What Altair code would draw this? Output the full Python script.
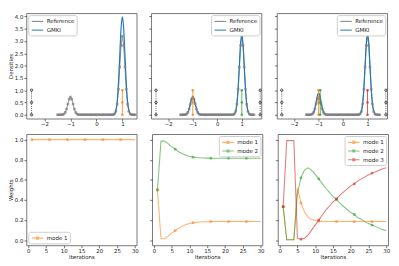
import altair as alt
import pandas as pd

FONT = "DejaVu Sans"
GRAY = "#7f7f7f"
BLUE = "#1f77b4"
ORANGE = "#ff7f0e"
GREEN = "#2ca02c"
RED = "#d62728"

# ---- density panels (top row) ----
X_GRID = [
    -1.5, -1.45, -1.4, -1.35, -1.3, -1.25, -1.2, -1.15, -1.1, -1.05,
    -1.0, -0.95, -0.9, -0.85, -0.8, -0.75, -0.7, -0.65, -0.6, -0.55,
    -0.5, -0.45, -0.4, -0.35, -0.3, -0.25, -0.2, -0.15, -0.1, -0.05,
    0.0, 0.05, 0.1, 0.15, 0.2, 0.25, 0.3, 0.35, 0.4, 0.45,
    0.5, 0.55, 0.6, 0.65, 0.7, 0.75, 0.8, 0.85, 0.9, 0.95,
    1.0, 1.05, 1.1, 1.15, 1.2, 1.25, 1.3, 1.35, 1.4, 1.45,
    1.5,
]
REF_DENS = [
    0, 0, 0, 0.002, 0.008, 0.032, 0.097, 0.234, 0.437, 0.635,
    0.72, 0.635, 0.437, 0.234, 0.097, 0.032, 0.008, 0.002, 0, 0,
    0, 0, 0, 0, 0, 0, 0, 0, 0, 0,
    0, 0, 0, 0, 0, 0, 0, 0, 0, 0,
    0, 0, 0.001, 0.007, 0.036, 0.140, 0.433, 1.039, 1.941, 2.824,
    3.2, 2.824, 1.941, 1.039, 0.433, 0.140, 0.036, 0.007, 0.001, 0,
    0,
]
GMKI1_X = [
    0.5, 0.55, 0.6, 0.65, 0.7, 0.75, 0.8, 0.85, 0.9, 0.95,
    1.0, 1.05, 1.1, 1.15, 1.2, 1.25, 1.3, 1.35, 1.4, 1.45,
    1.5,
]
GMKI1_Y = [
    0, 0, 0.001, 0.009, 0.044, 0.175, 0.540, 1.296, 2.420, 3.521,
    3.99, 3.521, 2.420, 1.296, 0.540, 0.175, 0.044, 0.009, 0.001, 0,
    0,
]
GMKI2_Y = [
    0, 0, 0, 0.002, 0.008, 0.032, 0.099, 0.237, 0.443, 0.644,
    0.73, 0.644, 0.443, 0.237, 0.099, 0.032, 0.008, 0.002, 0, 0,
    0, 0, 0, 0, 0, 0, 0, 0, 0, 0,
    0, 0, 0, 0, 0, 0, 0, 0, 0, 0,
    0, 0, 0.001, 0.007, 0.036, 0.144, 0.442, 1.062, 1.983, 2.886,
    3.27, 2.886, 1.983, 1.062, 0.442, 0.144, 0.036, 0.007, 0.001, 0,
    0,
]
GMKI3_Y = [
    0, 0, 0.001, 0.003, 0.009, 0.035, 0.11, 0.27, 0.52, 0.77,
    0.88, 0.80, 0.57, 0.31, 0.13, 0.045, 0.012, 0.003, 0.001, 0,
    0, 0, 0, 0, 0, 0, 0, 0, 0, 0,
    0, 0, 0, 0, 0, 0, 0, 0, 0, 0,
    0, 0, 0.001, 0.007, 0.037, 0.145, 0.446, 1.072, 2.001, 2.912,
    3.3, 2.912, 2.001, 1.072, 0.446, 0.145, 0.037, 0.007, 0.001, 0,
    0,
]
MODE_Y = [0.0, 0.5, 1.0]
P1_MODES = [1.0]
P2_MODES = [-1.0, 1.0]
P3_MODES = [-1.0, -0.93, 1.0]
P1_BOUNDS = [-2.5]
P23_BOUNDS = [-2.5, 1.75]
DENS_TICKS = [0.0, 0.5, 1.0, 1.5, 2.0, 2.5, 3.0, 3.5, 4.0]
DENS_XTICKS = [-2, -1, 0, 1]

# ---- weight panels (bottom row) ----
ITERS = list(range(1, 31))
MARK_ITERS = [1, 6, 11, 16, 21, 26]
W1_M1 = [1.0] * 30
W2_M1 = [0.5, 0.015, 0.015, 0.04, 0.07, 0.095, 0.12, 0.14, 0.155, 0.167,
         0.174, 0.178, 0.181, 0.183, 0.184, 0.185, 0.185, 0.185, 0.185, 0.185,
         0.185, 0.185, 0.185, 0.185, 0.185, 0.185, 0.185, 0.185, 0.185, 0.185]
W2_M2 = [0.5, 0.985, 0.985, 0.96, 0.93, 0.905, 0.88, 0.86, 0.845, 0.833,
         0.826, 0.822, 0.819, 0.817, 0.816, 0.815, 0.815, 0.815, 0.815, 0.815,
         0.815, 0.815, 0.815, 0.815, 0.815, 0.815, 0.815, 0.815, 0.815, 0.815]
W3_M1 = [0.333, 0.005, 0.005, 0.005, 0.52, 0.37, 0.28, 0.23, 0.205, 0.195,
         0.19, 0.187, 0.186, 0.185, 0.185, 0.185, 0.185, 0.185, 0.185, 0.185,
         0.185, 0.185, 0.185, 0.185, 0.185, 0.185, 0.185, 0.185, 0.185, 0.185]
W3_M2 = [0.334, 0.005, 0.005, 0.005, 0.46, 0.62, 0.70, 0.72, 0.695, 0.655,
         0.61, 0.563, 0.514, 0.475, 0.435, 0.405, 0.365, 0.335, 0.305, 0.275,
         0.255, 0.225, 0.205, 0.185, 0.165, 0.15, 0.135, 0.12, 0.105, 0.095]
W3_M3 = [0.333, 0.99, 0.99, 0.99, 0.02, 0.01, 0.02, 0.05, 0.10, 0.15,
         0.20, 0.25, 0.30, 0.34, 0.38, 0.41, 0.45, 0.48, 0.51, 0.54,
         0.56, 0.59, 0.61, 0.63, 0.65, 0.667, 0.68, 0.695, 0.71, 0.72]
W_XTICKS = [0, 5, 10, 15, 20, 25, 30]
W_YTICKS = [0.0, 0.2, 0.4, 0.6, 0.8, 1.0]

PW = 114
TOP_H = 109
BOT_H = 115
LINE_SYM = "M-1.7,0H1.7"
LINE_SQ_SYM = "M-1.7,0H1.7M-0.3,-0.3H0.3V0.3H-0.3Z"
LEG = dict(title=None, offset=2, padding=2, labelFontSize=5.7, labelFont=FONT,
           labelColor="#222", symbolSize=49, symbolStrokeWidth=1.2,
           strokeColor="#cccccc", fillColor="white", cornerRadius=2,
           rowPadding=1, labelOffset=5, symbolOffset=3)


def dens_panel(gx, gy, modes, colors, bounds, xdom, orient, first):
    ref = pd.DataFrame({"x": X_GRID, "y": REF_DENS, "series": "Reference"})
    gm = pd.DataFrame({"x": gx, "y": gy, "series": "GMKI"})
    xenc = alt.X("x:Q", scale=alt.Scale(domain=xdom, nice=False, zero=False),
                 axis=alt.Axis(values=DENS_XTICKS, format="d", title=None))
    yax = alt.Axis(values=DENS_TICKS, format=".1f", labels=first,
                   title="Densities" if first else None)
    yenc = alt.Y("y:Q", scale=alt.Scale(domain=[-0.157, 4.134], nice=False, zero=False), axis=yax)
    col = alt.Color("series:N",
                    scale=alt.Scale(domain=["Reference", "GMKI"], range=[GRAY, BLUE]),
                    legend=alt.Legend(orient=orient, symbolType=LINE_SYM, **LEG))
    layers = [
        alt.Chart(ref).mark_line(strokeWidth=1, opacity=0.85).encode(xenc, yenc, col),
        alt.Chart(gm).mark_line(strokeWidth=1.2, interpolate="monotone").encode(xenc, yenc, col),
        alt.Chart(ref).mark_point(shape="square", filled=True, size=7, opacity=0.75,
                                  color=GRAY).encode(xenc, yenc),
    ]
    for m, c in zip(modes, colors):
        df = pd.DataFrame({"x": [m] * 3, "y": MODE_Y})
        layers.append(alt.Chart(df).mark_line(
            color=c, strokeWidth=1, opacity=0.8,
            point=alt.OverlayMarkDef(color=c, filled=True, size=7, opacity=0.8)).encode(xenc, yenc))
    for b in bounds:
        df = pd.DataFrame({"x": [b] * 3, "y": MODE_Y})
        layers.append(alt.Chart(df).mark_line(
            color="#222", strokeWidth=0.7, strokeDash=[1, 1],
            point=alt.OverlayMarkDef(color="#222", filled=False, size=6, strokeWidth=0.8)).encode(xenc, yenc))
    return alt.layer(*layers).properties(width=PW, height=TOP_H)


def w_panel(series, names, colors, orient, first):
    rows = []
    for name, vals in zip(names, series):
        for it, v in zip(ITERS, vals):
            rows.append({"it": it, "w": v, "mode": name})
    df = pd.DataFrame(rows)
    pts = df[df["it"].isin(MARK_ITERS)]
    xenc = alt.X("it:Q", scale=alt.Scale(domain=[-0.5, 30.5], nice=False, zero=False),
                 axis=alt.Axis(values=W_XTICKS, format="d", title="Iterations"))
    yax = alt.Axis(values=W_YTICKS, format=".1f", labels=first,
                   title="Weights" if first else None)
    yenc = alt.Y("w:Q", scale=alt.Scale(domain=[-0.051, 1.055], nice=False, zero=False), axis=yax)
    col = alt.Color("mode:N", scale=alt.Scale(domain=names, range=colors),
                    legend=alt.Legend(orient=orient, symbolType=LINE_SQ_SYM, **LEG))
    line = alt.Chart(df).mark_line(strokeWidth=1.1, opacity=0.6).encode(xenc, yenc, col)
    pt = alt.Chart(pts).mark_point(shape="square", filled=True, size=7, opacity=0.6).encode(xenc, yenc, col)
    return alt.layer(line, pt).properties(width=PW, height=BOT_H)


t1 = dens_panel(GMKI1_X, GMKI1_Y, P1_MODES, [ORANGE], P1_BOUNDS, [-2.7, 1.55], "top-left", True)
t2 = dens_panel(X_GRID, GMKI2_Y, P2_MODES, [ORANGE, GREEN], P23_BOUNDS, [-2.7, 1.8], "top-right", False)
t3 = dens_panel(X_GRID, GMKI3_Y, P3_MODES, [ORANGE, GREEN, RED], P23_BOUNDS, [-2.7, 1.8], "top-right", False)

b1 = w_panel([W1_M1], ["mode 1"], [ORANGE], "bottom-left", True)
b2 = w_panel([W2_M1, W2_M2], ["mode 1", "mode 2"], [ORANGE, GREEN], "top-right", False)
b3 = w_panel([W3_M1, W3_M2, W3_M3], ["mode 1", "mode 2", "mode 3"], [ORANGE, GREEN, RED], "top-right", False)

top = alt.hconcat(t1, t2, t3, spacing=9).resolve_scale(color="independent")
bottom = alt.hconcat(b1, b2, b3, spacing=9).resolve_scale(color="independent")

chart = (
    alt.vconcat(top, bottom, spacing=5)
    .resolve_scale(color="independent")
    .properties(padding=0)
    .configure_axis(labelFont=FONT, labelFontSize=5.6, labelColor="#222",
                    titleFont=FONT, titleFontSize=5.6, titleFontWeight="normal",
                    titleColor="#222", tickColor="#333", tickSize=2.5, tickWidth=0.7,
                    domain=False, grid=False, labelPadding=1, titlePadding=1)
    .configure_view(stroke="#666", strokeWidth=0.9)
)

chart.save("out.html", embed_options={"renderer": "svg", "actions": False})
